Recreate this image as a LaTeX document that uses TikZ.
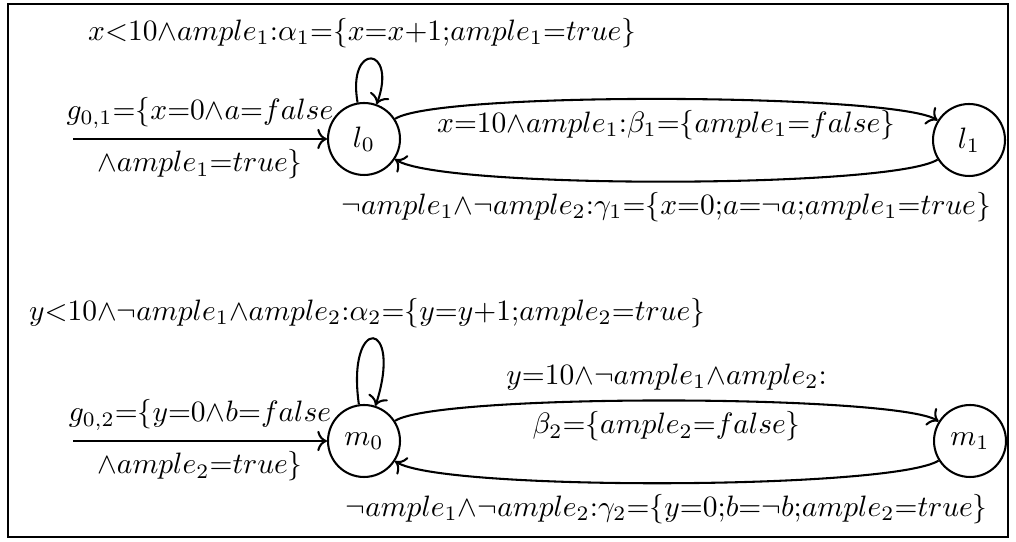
\documentclass[tikz,border=0pt]{standalone}
\usetikzlibrary{arrows.meta}
\begin{document}
\begin{tikzpicture}[x=0.339pt,y=-0.339pt, line width=0.7pt, >={To[scale=1.05]},
  state/.style={circle,draw,minimum size=24.4pt,inner sep=0pt},
  frame/.style={draw,line width=0.5pt},
  fwd/.style={out=33,in=148,looseness=0.24},
  back/.style={out=212,in=-33,looseness=0.26}]
\useasboundingbox (0,0) rectangle (1016,542);
\path[frame] (8,4) rectangle (1008,537);
% top automaton
\node[state] (l0) at (364,139) {$l_0$};
\node[state] (l1) at (969,140) {$l_1$};
\coordinate (i1) at (73,139);
\draw[->] (i1) -- node[above]{$g_{0,1}{=}\{x{=}0{\wedge}a{=}false$} node[below]{${\wedge}ample_1{=}true\}$} (l0);
\draw[->] (l0) to[out=100,in=70,distance=21pt] node[above,xshift=-3pt]{$x{<}10{\wedge}ample_1{:}\alpha_1{=}\{x{=}x{+}1{;}ample_1{=}true\}$} (l0);
\draw[->] (l0) to[fwd] node[below]{$x{=}10{\wedge}ample_1{:}\beta_1{=}\{ample_1{=}false\}$} (l1);
\draw[->] (l1) to[back] node[below]{${\neg}ample_1{\wedge}{\neg}ample_2{:}\gamma_1{=}\{x{=}0{;}a{=}{\neg}a{;}ample_1{=}true\}$} (l0);
% bottom automaton
\node[state] (m0) at (364,441) {$m_0$};
\node[state] (m1) at (970,441) {$m_1$};
\coordinate (i2) at (73,441);
\draw[->] (i2) -- node[above]{$g_{0,2}{=}\{y{=}0{\wedge}b{=}false$} node[below]{${\wedge}ample_2{=}true\}$} (m0);
\draw[->] (m0) to[out=98,in=72,distance=31pt] node[above,xshift=-2pt]{$y{<}10{\wedge}{\neg}ample_1{\wedge}ample_2{:}\alpha_2{=}\{y{=}y{+}1{;}ample_2{=}true\}$} (m0);
\draw[->] (m0) to[fwd] node[above]{$y{=}10{\wedge}{\neg}ample_1{\wedge}ample_2{:}$} node[below]{$\beta_2{=}\{ample_2{=}false\}$} (m1);
\draw[->] (m1) to[back] node[below]{${\neg}ample_1{\wedge}{\neg}ample_2{:}\gamma_2{=}\{y{=}0{;}b{=}{\neg}b{;}ample_2{=}true\}$} (m0);
\end{tikzpicture}
\end{document}
